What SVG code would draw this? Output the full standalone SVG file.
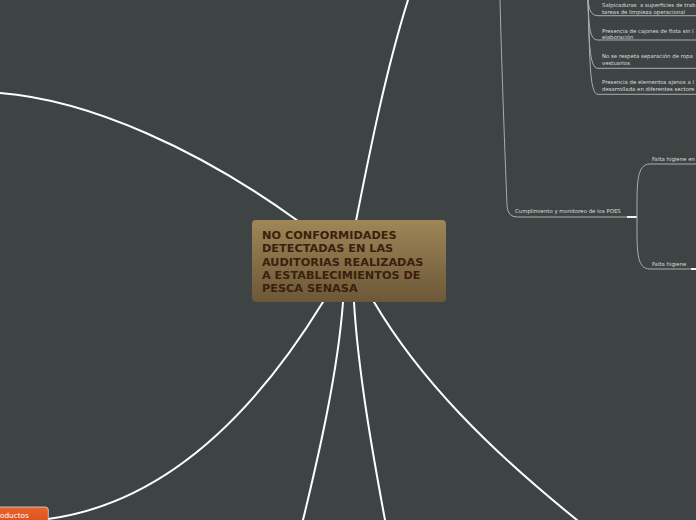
<svg xmlns="http://www.w3.org/2000/svg" width="696" height="520" viewBox="0 0 696 520">
<defs>
<linearGradient id="gCenter" x1="0" y1="0" x2="0" y2="1">
<stop offset="0" stop-color="#9e8657"/>
<stop offset="1" stop-color="#6c5838"/>
</linearGradient>
<linearGradient id="gOrange" x1="0" y1="0" x2="0" y2="1">
<stop offset="0" stop-color="#e8662c"/>
<stop offset="1" stop-color="#d9481a"/>
</linearGradient>
<style>
.main{fill:none;stroke:#ffffff;stroke-width:2;stroke-linecap:round}
.thin{fill:none;stroke:#a9adad;stroke-width:1}
.bar{fill:none;stroke:#f2f2f2;stroke-width:2}
.ct{font-family:"DejaVu Sans",Verdana,sans-serif;font-weight:bold;font-size:11.25px;fill:#3b200d}
.st{font-family:"DejaVu Sans",Verdana,sans-serif;font-size:5.4px;fill:#dcdcdc}
.ot{font-family:"DejaVu Sans",Verdana,sans-serif;font-size:7.3px;fill:#ffffff}
</style>
</defs>
<rect x="0" y="0" width="696" height="520" fill="#3e4444"/>
<g id="connectors">
<path class="main" d="M356,221 C370,150 386,70 408,0"/>
<path class="main" d="M298,221 C200,150 90,100 0,93"/>
<path class="main" d="M323,302 C280,372 190,500 48,519"/>
<path class="main" d="M343,302 C338,370 320,450 303,520"/>
<path class="main" d="M354,302 C358,370 372,450 385,520"/>
<path class="main" d="M374,302 C420,380 490,450 577,520"/>
<path class="thin" d="M500,0 C502,80 506,180 507,206 Q508,217 517,217 L627,217"/>
<path class="bar" d="M627,217 L637,217"/>
<path class="thin" d="M637,217 C637,185 636,164 650,164 L696,164"/>
<path class="thin" d="M637,217 C637,250 636,269 650,269 L691,269"/>
<path class="bar" d="M691,269 L696,269"/>
<path class="thin" d="M588,0 C589,8 590,15.7 598,15.7 L696,15.7"/>
<path class="thin" d="M588,0 C589,25 589,40 598,40 L696,40"/>
<path class="thin" d="M588,0 C589,40 589,68.3 598,68.3 L696,68.3"/>
<path class="thin" d="M588,0 C590,55 589,94.3 598,94.3 L696,94.3"/>
</g>
<g id="center">
<rect x="252" y="220" width="194" height="82" rx="4" fill="url(#gCenter)"/>
<text class="ct" x="262" y="239">NO CONFORMIDADES</text>
<text class="ct" x="262" y="252.3">DETECTADAS EN LAS</text>
<text class="ct" x="262" y="265.6">AUDITORIAS REALIZADAS</text>
<text class="ct" x="262" y="279">A ESTABLECIMIENTOS DE</text>
<text class="ct" x="262" y="292.3">PESCA SENASA</text>
</g>
<g id="productos">
<rect x="-10" y="507" width="58.3" height="20" rx="3" fill="url(#gOrange)" stroke="#d8d8d8" stroke-width="0.8"/>
<text class="ot" x="0" y="518">oductos</text>
</g>
<g id="item1"><text class="st" x="602" y="7.3" xml:space="preserve">Salpicaduras  a superficies de trab</text><text class="st" x="602" y="14">tareas de limpieza operacional</text></g>
<g id="item2"><text class="st" x="602" y="32.5">Presencia de cajones de flota sin l</text><text class="st" x="602" y="39">elaboración</text></g>
<g id="item3"><text class="st" x="602" y="58">No se respeta separación de ropa</text><text class="st" x="602" y="65.3">vestuarios</text></g>
<g id="item4"><text class="st" x="602" y="83.7">Presencia de elementos ajenos a l</text><text class="st" x="602" y="91.3">desarrollada en diferentes sectore</text></g>
<g id="poes"><text class="st" x="515" y="213">Cumplimiento y monitoreo de los POES</text></g>
<g id="falta1"><text class="st" x="652" y="161">Falta higiene en</text></g>
<g id="falta2"><text class="st" x="652" y="266">Falta higiene</text></g>
</svg>
